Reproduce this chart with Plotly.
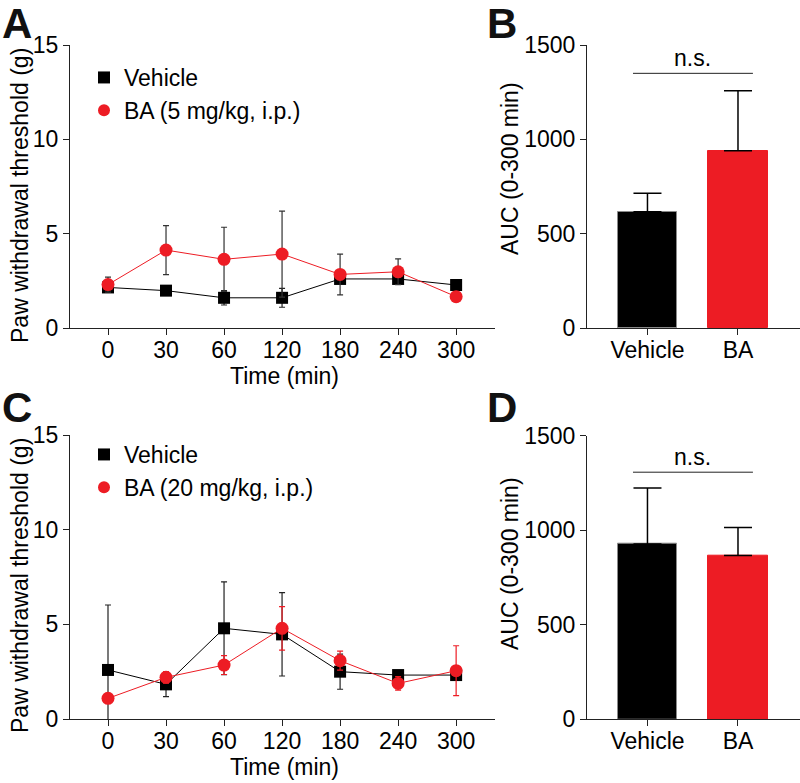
import plotly.graph_objects as go

# ---------------- data ----------------
time_labels = ["0", "30", "60", "120", "180", "240", "300"]
tpos = list(range(len(time_labels)))

# Panel A (BA 5 mg/kg)
a_vehicle = [2.15, 1.98, 1.6, 1.6, 2.6, 2.6, 2.28]
a_vehicle_err = [0.2, 0.15, 0.38, 0.5, 0.1, 0.1, 0.1]
a_ba = [2.3, 4.13, 3.64, 3.92, 2.84, 2.98, 1.66]
a_ba_err = [0.4, 1.3, 1.7, 2.28, 1.08, 0.68, 0.1]

# Panel C (BA 20 mg/kg)
c_vehicle = [2.59, 1.83, 4.79, 4.47, 2.5, 2.32, 2.32]
c_vehicle_err = [3.43, 0.65, 2.45, 2.2, 0.93, 0.12, 0.15]
c_ba = [1.09, 2.2, 2.85, 4.79, 3.08, 1.88, 2.55]
c_ba_err = [0.0, 0.3, 0.5, 1.15, 0.5, 0.36, 1.32]

# AUC bars
bar_groups = ["Vehicle", "BA"]
b_auc = [617, 940]
b_auc_err = [98, 318]
d_auc = [927, 867]
d_auc_err = [296, 148]

ns_b = 1350
ns_d = 1307

BLACK = "#000000"
RED = "#ED1C24"
FONT = "Arial, Liberation Sans, Helvetica, sans-serif"
FS = 23

fig = go.Figure()

def line_pair(xa, ya, veh, veh_err, ba, ba_err, ba_err_color, legend, ba_name):
    fig.add_trace(go.Scatter(
        x=tpos, y=veh, mode="lines+markers", xaxis=xa, yaxis=ya,
        line=dict(color=BLACK, width=1),
        marker=dict(symbol="square", size=12, color=BLACK),
        error_y=dict(type="data", array=veh_err, color="#222222", thickness=1.2, width=3),
        showlegend=False))
    fig.add_trace(go.Scatter(
        x=tpos, y=ba, mode="lines+markers", xaxis=xa, yaxis=ya,
        line=dict(color=RED, width=1),
        marker=dict(symbol="circle", size=13, color=RED),
        error_y=dict(type="data", array=ba_err, color=ba_err_color, thickness=1.2, width=3),
        showlegend=False))
    # legend entries
    fig.add_trace(go.Scatter(
        x=[None], y=[None], mode="markers", xaxis=xa, yaxis=ya, name="Vehicle",
        marker=dict(symbol="square", size=12, color=BLACK), legend=legend))
    fig.add_trace(go.Scatter(
        x=[None], y=[None], mode="markers", xaxis=xa, yaxis=ya, name=ba_name,
        marker=dict(symbol="circle", size=13, color=RED), legend=legend))

line_pair("x", "y", a_vehicle, a_vehicle_err, a_ba, a_ba_err, "#333333", "legend", "BA (5 mg/kg, i.p.)")
line_pair("x3", "y3", c_vehicle, c_vehicle_err, c_ba, c_ba_err, RED, "legend2", "BA (20 mg/kg, i.p.)")

def bars(xa, ya, vals, errs):
    fig.add_trace(go.Bar(
        x=[0, 1], y=vals, xaxis=xa, yaxis=ya, width=0.655,
        marker=dict(color=[BLACK, RED], line=dict(color=["#8a8a8a", RED], width=1)),
        error_y=dict(type="data", array=errs, arrayminus=[0, 0], symmetric=False,
                     color=BLACK, thickness=1.5, width=14),
        showlegend=False))

bars("x2", "y2", b_auc, b_auc_err)
bars("x4", "y4", d_auc, d_auc_err)

H = 783.0
W = 800.0
def ydom(top_px, bot_px):
    return [1 - bot_px / H, 1 - top_px / H]

tfont = dict(size=FS, color=BLACK, family=FONT)
axis_common = dict(showline=True, linecolor="#222222", linewidth=1, showgrid=False,
                   zeroline=False, ticks="outside", ticklen=6, tickwidth=1,
                   tickcolor="#222222", tickfont=tfont, automargin=False)

left_x = dict(domain=[70 / W, 495 / W], range=[-0.655, 6.67],
              tickvals=tpos, ticktext=time_labels, ticklabelstandoff=-5,
              **axis_common)
left_y = dict(range=[0, 15], tickvals=[0, 5, 10, 15], **axis_common)
right_x = dict(domain=[587 / W, 1.0], range=[-0.668, 1.685], ticklabelstandoff=-5,
               tickvals=[0, 1], ticktext=bar_groups, **axis_common)
right_y = dict(range=[0, 1500], tickvals=[0, 500, 1000, 1500], **axis_common)

leg = dict(xanchor="left", yanchor="top", font=tfont, bgcolor="rgba(0,0,0,0)",
           tracegroupgap=0, itemsizing="constant")

dA = ydom(45, 328)
dB = ydom(45, 328.3)
dC = ydom(435, 719)
dD = ydom(435.7, 719.3)

fig.update_layout(
    width=800, height=783,
    margin=dict(l=0, r=0, t=0, b=0, autoexpand=False),
    paper_bgcolor="white", plot_bgcolor="white",
    font=dict(family=FONT, color=BLACK, size=FS),
    bargap=0,
    xaxis=dict(anchor="y", **left_x),
    yaxis=dict(anchor="x", domain=dA, **left_y),
    xaxis2=dict(anchor="y2", **right_x),
    yaxis2=dict(anchor="x2", domain=dB, **right_y),
    xaxis3=dict(anchor="y3", **left_x),
    yaxis3=dict(anchor="x3", domain=dC, **left_y),
    xaxis4=dict(anchor="y4", **right_x),
    yaxis4=dict(anchor="x4", domain=dD, **right_y),
    legend=dict(x=84 / W, y=1 - 56 / H, **leg),
    legend2=dict(x=84 / W, y=1 - 433 / H, **leg),
)

# axis titles (pixel positions of their centres)
titles = [
    ("Paw withdrawal threshold (g)", 20, 196, -90),
    ("Paw withdrawal threshold (g)", 20, 586, -90),
    ("AUC (0-300 min)", 510, 168, -90),
    ("AUC (0-300 min)", 510, 563, -90),
    ("Time (min)", 284, 376, 0),
    ("Time (min)", 284, 767, 0),
]
for text, xc, yc, ang in titles:
    fig.add_annotation(xref="paper", yref="paper", x=xc / W, y=1 - yc / H,
                       text=text, textangle=ang, showarrow=False,
                       xanchor="center", yanchor="middle", font=tfont)

# significance brackets
for xa, ya, h in [("x2", "y2", ns_b), ("x4", "y4", ns_d)]:
    fig.add_shape(type="line", xref=xa, yref=ya, x0=-0.16, x1=1.165, y0=h, y1=h,
                  line=dict(color="#222222", width=1))
    fig.add_annotation(xref=xa, yref=ya, x=0.5, y=h, text="n.s.", showarrow=False,
                       yanchor="bottom", yshift=0, font=tfont)

# panel letters
for letter, px, py in [("A", 0, -2), ("B", 485, -2), ("C", 0, 382), ("D", 485, 382)]:
    fig.add_annotation(xref="paper", yref="paper", x=px / W, y=1 - py / H,
                       xanchor="left", yanchor="top", text="<b>%s</b>" % letter,
                       showarrow=False, font=dict(size=42, family=FONT, color="#111111"))

fig.write_html("out.html", config={"displayModeBar": False},
               post_script="document.body.style.margin='0';document.body.style.padding='0';")
